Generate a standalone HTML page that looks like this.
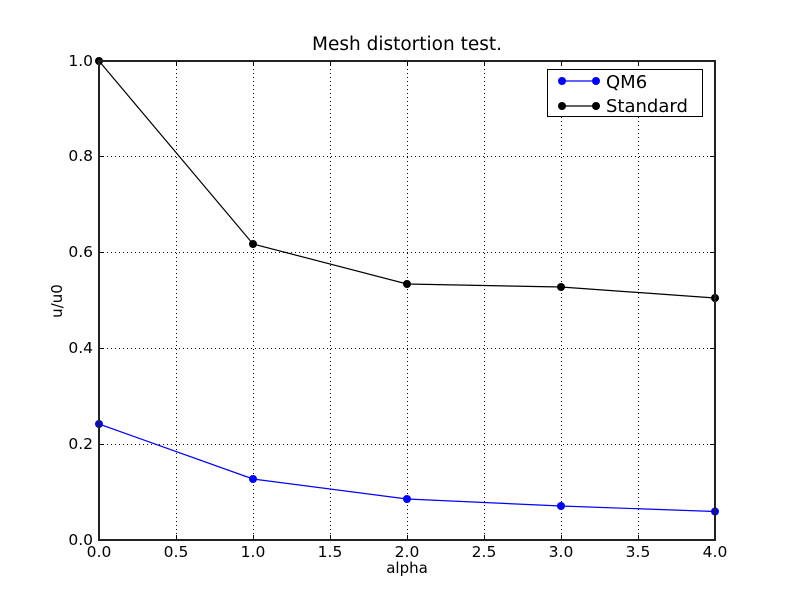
<!DOCTYPE html>
<html><head><meta charset="utf-8"><style>
html,body{margin:0;padding:0;background:#fff;}
svg{display:block;font-family:"DejaVu Sans","Liberation Sans",sans-serif;}
</style></head><body>
<svg width="795" height="600" viewBox="0 0 795 600" xmlns="http://www.w3.org/2000/svg">
<rect x="0" y="0" width="795" height="600" fill="#fff"/>
<!-- grid -->
<g stroke="#000" stroke-width="1" stroke-dasharray="1,3" fill="none">
<line x1="176.5" y1="61" x2="176.5" y2="540"/>
<line x1="253.5" y1="61" x2="253.5" y2="540"/>
<line x1="330.5" y1="61" x2="330.5" y2="540"/>
<line x1="407.5" y1="61" x2="407.5" y2="540"/>
<line x1="484.5" y1="61" x2="484.5" y2="540"/>
<line x1="561.5" y1="61" x2="561.5" y2="540"/>
<line x1="638.5" y1="61" x2="638.5" y2="540"/>
<line x1="99" y1="156.5" x2="715" y2="156.5"/>
<line x1="99" y1="252.5" x2="715" y2="252.5"/>
<line x1="99" y1="348.5" x2="715" y2="348.5"/>
<line x1="99" y1="444.5" x2="715" y2="444.5"/>
</g>
<!-- ticks -->
<g stroke="#000" stroke-width="1">
<line x1="176.5" y1="540" x2="176.5" y2="535"/><line x1="176.5" y1="61" x2="176.5" y2="66"/>
<line x1="253.5" y1="540" x2="253.5" y2="535"/><line x1="253.5" y1="61" x2="253.5" y2="66"/>
<line x1="330.5" y1="540" x2="330.5" y2="535"/><line x1="330.5" y1="61" x2="330.5" y2="66"/>
<line x1="407.5" y1="540" x2="407.5" y2="535"/><line x1="407.5" y1="61" x2="407.5" y2="66"/>
<line x1="484.5" y1="540" x2="484.5" y2="535"/><line x1="484.5" y1="61" x2="484.5" y2="66"/>
<line x1="561.5" y1="540" x2="561.5" y2="535"/><line x1="561.5" y1="61" x2="561.5" y2="66"/>
<line x1="638.5" y1="540" x2="638.5" y2="535"/><line x1="638.5" y1="61" x2="638.5" y2="66"/>
<line x1="99" y1="156.5" x2="104" y2="156.5"/><line x1="715" y1="156.5" x2="710" y2="156.5"/>
<line x1="99" y1="252.5" x2="104" y2="252.5"/><line x1="715" y1="252.5" x2="710" y2="252.5"/>
<line x1="99" y1="348.5" x2="104" y2="348.5"/><line x1="715" y1="348.5" x2="710" y2="348.5"/>
<line x1="99" y1="444.5" x2="104" y2="444.5"/><line x1="715" y1="444.5" x2="710" y2="444.5"/>
</g>
<!-- series -->
<polyline points="99,424 253,479 407,499 561,506 715,511.5" fill="none" stroke="#0000ff" stroke-width="1.2"/>
<g fill="#0000ff"><circle cx="99" cy="424" r="4"/><circle cx="253" cy="479" r="4"/><circle cx="407" cy="499" r="4"/><circle cx="561" cy="506" r="4"/><circle cx="715" cy="511.5" r="4"/></g>
<polyline points="99,61 253,244 407,284 561,287 715,298" fill="none" stroke="#000" stroke-width="1.2"/>
<g fill="#000"><circle cx="99" cy="61" r="4"/><circle cx="253" cy="244" r="4"/><circle cx="407" cy="284" r="4"/><circle cx="561" cy="287" r="4"/><circle cx="715" cy="298" r="4"/></g>
<!-- spines -->
<rect x="99" y="61" width="616" height="479" fill="none" stroke="#222" stroke-width="2"/>
<!-- legend -->
<rect x="547.5" y="69.5" width="155" height="47" fill="#fff" stroke="#000" stroke-width="1"/>
<line x1="562" y1="81" x2="596" y2="81" stroke="#0000ff" stroke-width="1.2"/>
<circle cx="562" cy="81" r="4" fill="#0000ff"/><circle cx="596" cy="81" r="4" fill="#0000ff"/>
<line x1="562" y1="106" x2="596" y2="106" stroke="#000" stroke-width="1.2"/>
<circle cx="562" cy="106" r="4" fill="#000"/><circle cx="596" cy="106" r="4" fill="#000"/>
<text x="606" y="88" font-size="18" fill="#000">QM6</text>
<text x="606" y="112" font-size="18" fill="#000">Standard</text>
<!-- tick labels -->
<g font-size="15.5" fill="#000" text-anchor="middle">
<text x="99" y="557">0.0</text>
<text x="176" y="557">0.5</text>
<text x="253" y="557">1.0</text>
<text x="330" y="557">1.5</text>
<text x="407" y="557">2.0</text>
<text x="484" y="557">2.5</text>
<text x="561" y="557">3.0</text>
<text x="638" y="557">3.5</text>
<text x="715" y="557">4.0</text>
</g>
<g font-size="15.5" fill="#000" text-anchor="end">
<text x="93" y="545">0.0</text>
<text x="93" y="449">0.2</text>
<text x="93" y="353">0.4</text>
<text x="93" y="257">0.6</text>
<text x="93" y="161">0.8</text>
<text x="93" y="66">1.0</text>
</g>
<!-- labels -->
<text x="407" y="50" font-size="18.5" text-anchor="middle" fill="#000">Mesh distortion test.</text>
<text x="407" y="573" font-size="15" text-anchor="middle" fill="#000">alpha</text>
<text transform="translate(62,301) rotate(-90)" font-size="15" text-anchor="middle" fill="#000">u/u0</text>
</svg>
</body></html>
